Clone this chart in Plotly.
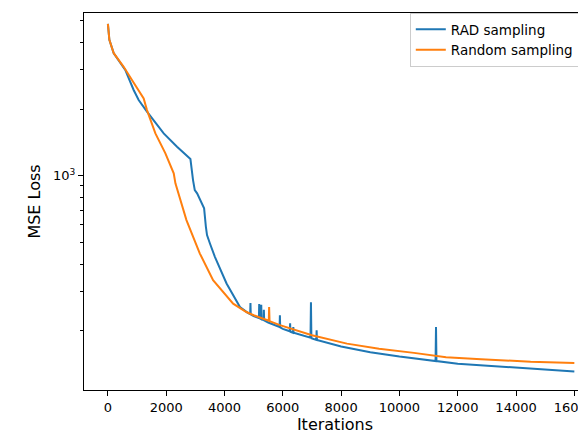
import plotly.graph_objects as go

# RAD sampling (blue)
rad_iter = [0, 50, 200, 540, 595, 883, 1055, 1340, 1777, 1914, 2371, 2831,
            2920, 2980, 3060, 3265, 3300, 3360, 3400, 3500, 3670, 4070, 4530,
            4800, 4880, 4890, 4900, 5000, 5180, 5190, 5200, 5250, 5260, 5270,
            5340, 5350, 5360, 5500, 5890, 5900, 5910, 6000, 6240, 6250, 6260,
            6350, 6360, 6370, 6950, 6965, 6980, 7150, 7160, 7170, 8000, 9000,
            10000, 11000, 11240, 11255, 11270, 12000, 13000, 14000, 15000, 16000]
rad_loss = [4840, 4100, 3570, 3100, 3000, 2437, 2196, 1945, 1636, 1553, 1352, 1190,
            956, 862, 833, 724, 713, 590, 540, 495, 431, 327, 256,
            241, 238, 267, 237, 233, 228, 264, 228, 226, 262, 226,
            224, 249, 223, 218, 208, 235, 207, 204, 199, 216, 198,
            196, 208, 196, 186, 269, 185, 182, 201, 182, 170, 160,
            153, 148, 146, 208, 146, 142, 139, 136, 134, 131]

# Random sampling (orange)
rnd_iter = [0, 50, 200, 540, 825, 1168, 1227, 1340, 1457, 1629, 1972, 2258,
            2316, 2350, 2488, 2694, 3151, 3608, 4296, 4750, 5000, 5520, 5530,
            5545, 5900, 7000, 8200, 9300, 10500, 11600, 12800, 13500, 14500, 16000]
rnd_loss = [4840, 4100, 3570, 3100, 2703, 2272, 2233, 1978, 1784, 1553, 1262, 1025,
            924, 892, 776, 631, 447, 338, 265, 243, 235, 222, 256,
            221, 212, 191, 175, 166, 159, 152, 149, 147, 145, 143]

y_major = [1000]
y_major_text = ["10<sup>3</sup>"]
y_minor = [200, 300, 400, 500, 600, 700, 800, 900, 2000, 3000, 4000, 5000]

fig = go.Figure()
fig.add_trace(go.Scatter(x=rad_iter, y=rad_loss, mode="lines", name="RAD sampling",
                         line=dict(color="#1f77b4", width=2)))
fig.add_trace(go.Scatter(x=rnd_iter, y=rnd_loss, mode="lines", name="Random sampling",
                         line=dict(color="#ff7f0e", width=2)))

# page body has an 8px margin, so the figure is shifted by 8px
fig.update_layout(
    width=578, height=426,
    margin=dict(l=76, r=0, t=5, b=44),
    paper_bgcolor="white", plot_bgcolor="white",
    font=dict(family="DejaVu Sans", size=13, color="black"),
    legend=dict(x=0.649, y=1.0, xanchor="left", yanchor="top",
                bordercolor="#cccccc", borderwidth=1, bgcolor="rgba(255,255,255,0.8)",
                font=dict(size=13.5), tracegroupgap=0),
)

fig.update_xaxes(
    range=[-820, 16400], tick0=0, dtick=2000, tickformat="d",
    showgrid=False, zeroline=False, automargin=False,
    showline=True, linecolor="black", linewidth=1, mirror=True,
    ticks="outside", ticklen=5, tickcolor="black",
    ticklabeloverflow="allow",
    title=dict(text="Iterations", standoff=2),
)

fig.update_yaxes(
    type="log", range=[2.034, 3.734], automargin=False,
    tickmode="array", tickvals=y_major, ticktext=y_major_text,
    showgrid=False, zeroline=False,
    showline=True, linecolor="black", linewidth=1,
    ticks="outside", ticklen=5, tickcolor="black",
    minor=dict(tickmode="array", tickvals=y_minor, ticks="outside",
               ticklen=3, tickcolor="black", showgrid=False),
    title=dict(text="MSE Loss", standoff=8),
)

fig.write_html("out.html")
